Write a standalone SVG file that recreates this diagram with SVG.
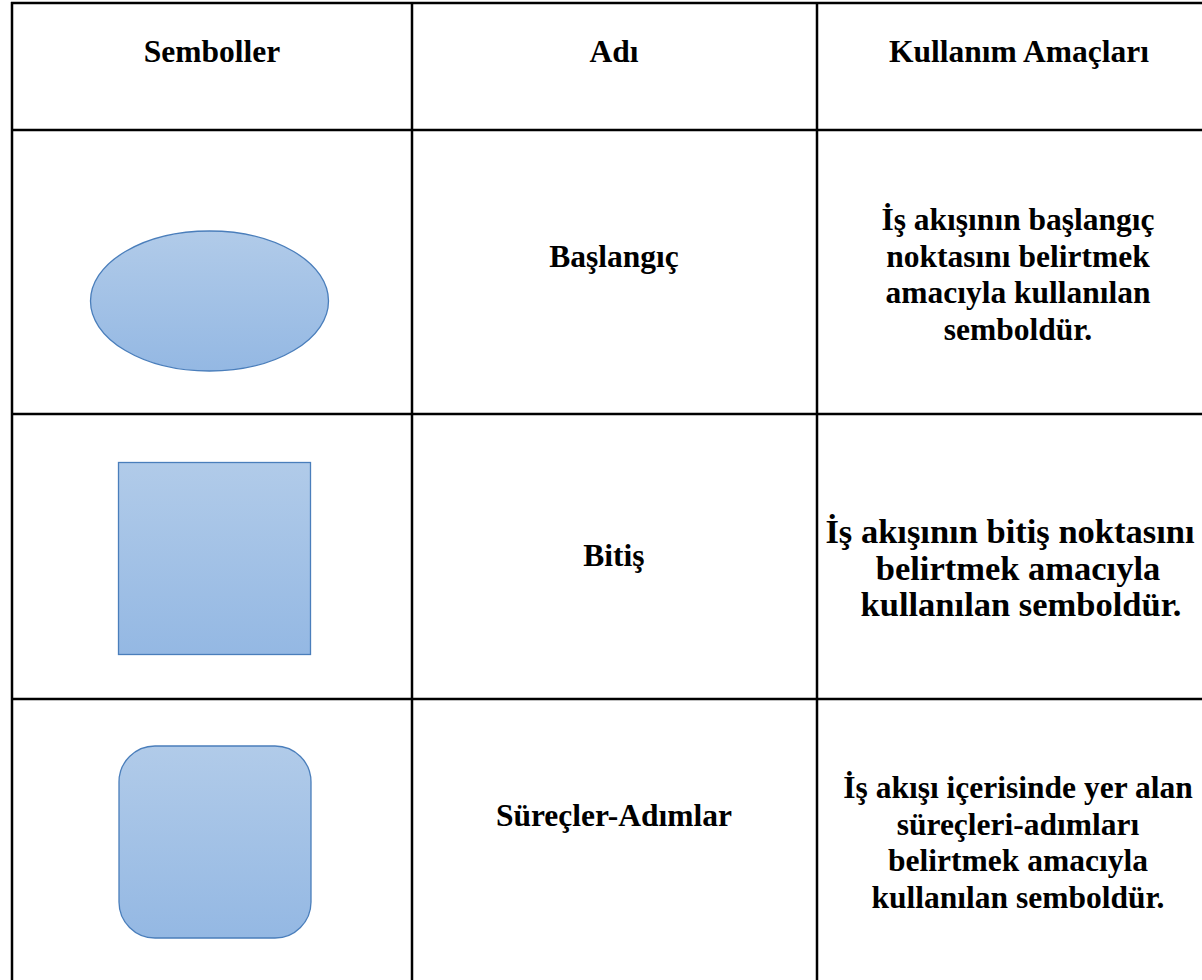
<svg xmlns="http://www.w3.org/2000/svg" width="1202" height="980" viewBox="0 0 1202 980">
<style>
.grid{stroke:#000;stroke-width:2.5;fill:none}
.t{font-family:"Liberation Serif","Times New Roman",serif;font-weight:bold;font-size:31.5px;fill:#000;text-anchor:middle}
.big{font-size:34.5px}
.sh{fill:url(#g);stroke:#4A7EBB;stroke-width:1.3}
</style>
<defs>
<linearGradient id="g" x1="0" y1="0" x2="0" y2="1">
<stop offset="0" stop-color="#B1CBE9"/>
<stop offset="1" stop-color="#94B8E3"/>
</linearGradient>
</defs>
<rect width="1202" height="980" fill="#fff"/>
<g id="table">
<line class="grid" x1="11" y1="3" x2="1202" y2="3"/>
<line class="grid" x1="11" y1="130" x2="1202" y2="130"/>
<line class="grid" x1="11" y1="414" x2="1202" y2="414"/>
<line class="grid" x1="11" y1="699" x2="1202" y2="699"/>
<line class="grid" x1="12" y1="2" x2="12" y2="980"/>
<line class="grid" x1="412" y1="2" x2="412" y2="980"/>
<line class="grid" x1="817" y1="2" x2="817" y2="980"/>
</g>
<g id="header">
<text class="t" x="212" y="62">Semboller</text>
<text class="t" x="614" y="62">Adı</text>
<text class="t" x="1019" y="62">Kullanım Amaçları</text>
</g>
<g id="row-baslangic">
<ellipse class="sh" cx="209.5" cy="301" rx="119" ry="70"/>
<text class="t" x="614" y="267">Başlangıç</text>
<text class="t" x="1018" y="230">İş akışının başlangıç</text>
<text class="t" x="1018" y="267">noktasını belirtmek</text>
<text class="t" x="1018" y="303">amacıyla kullanılan</text>
<text class="t" x="1018" y="340">semboldür.</text>
</g>
<g id="row-bitis">
<rect class="sh" x="118.5" y="462.5" width="192" height="192"/>
<text class="t" x="614" y="566">Bitiş</text>
<text class="t big" x="1010" y="543">İş akışının bitiş noktasını</text>
<text class="t big" x="1018" y="580">belirtmek amacıyla</text>
<text class="t big" x="1021" y="616">kullanılan semboldür.</text>
</g>
<g id="row-surecler">
<rect class="sh" x="119" y="746" width="192" height="192" rx="36" ry="36"/>
<text class="t" x="614" y="826">Süreçler-Adımlar</text>
<text class="t" x="1018" y="798">İş akışı içerisinde yer alan</text>
<text class="t" x="1018" y="835">süreçleri-adımları</text>
<text class="t" x="1018" y="871">belirtmek amacıyla</text>
<text class="t" x="1018" y="908">kullanılan semboldür.</text>
</g>
<g id="connectors"></g>
</svg>
